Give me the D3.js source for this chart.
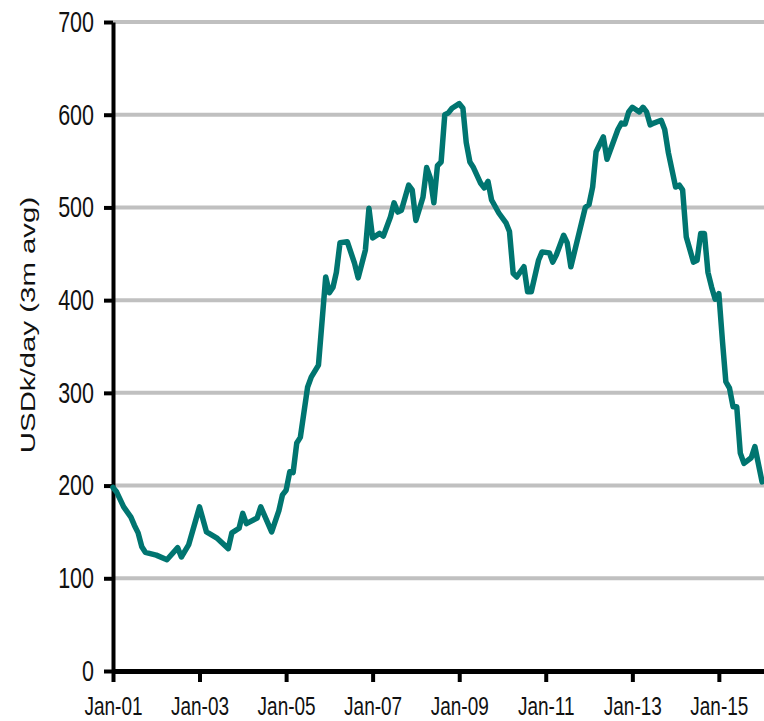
<!DOCTYPE html>
<html>
<head>
<meta charset="utf-8">
<script src="https://cdn.jsdelivr.net/npm/d3@7"></script>
<style>
  html, body { margin: 0; padding: 0; background: #ffffff; }
  svg { display: block; }
  text { font-family: "Liberation Sans", Arial, Helvetica, sans-serif; fill: #111; }
</style>
</head>
<body>
<svg id="chart" width="764" height="721"></svg>
<script>
// Monthly observations (3-month average, USDk/day)
const months = [
  "2001-01","2001-02","2001-04","2001-06","2001-07","2001-08","2001-09","2001-10",
  "2002-01","2002-04","2002-07","2002-08","2002-10","2002-12",
  "2003-01","2003-03","2003-06","2003-09","2003-10","2003-12",
  "2004-01","2004-02","2004-05","2004-06","2004-09","2004-11","2004-12",
  "2005-01","2005-02","2005-03","2005-04","2005-05","2005-07","2005-08","2005-10","2005-12",
  "2006-01","2006-02","2006-03","2006-04","2006-06","2006-08","2006-09","2006-11","2006-12",
  "2007-01","2007-03","2007-04","2007-06","2007-07","2007-08","2007-09","2007-11","2007-12",
  "2008-01","2008-03","2008-04","2008-05","2008-06","2008-07","2008-08","2008-09","2008-10","2008-11",
  "2009-01","2009-02","2009-03","2009-04","2009-05","2009-07","2009-08","2009-09","2009-10","2009-12",
  "2010-02","2010-03","2010-04","2010-05","2010-07","2010-08","2010-09","2010-11","2010-12",
  "2011-02","2011-03","2011-04","2011-06","2011-07","2011-08","2011-10","2011-12",
  "2012-01","2012-02","2012-03","2012-05","2012-06","2012-09","2012-10","2012-11","2012-12",
  "2013-01","2013-03","2013-04","2013-05","2013-06","2013-07","2013-09","2013-10","2013-11",
  "2014-01","2014-02","2014-03","2014-04","2014-06","2014-07","2014-08","2014-09","2014-10","2014-11","2014-12",
  "2015-01","2015-02","2015-03","2015-04","2015-05","2015-06","2015-07","2015-08","2015-10","2015-11","2016-01"
];
const values = [
  198,193,177,166,157,149,134,128,
  125,120,133,123,136,163,
  177,150,143,132,149,154,
  170,159,165,177,150,173,190,
  195,215,214,246,252,306,317,330,425,
  408,414,430,462,463,440,424,454,499,
  467,472,469,490,505,495,497,524,519,
  486,511,543,532,505,545,549,600,602,607,
  612,607,570,549,543,526,521,528,508,494,
  483,474,429,425,436,409,409,443,452,
  451,441,449,470,462,436,468,500,
  503,522,560,576,552,584,591,590,603,
  608,603,608,603,589,591,594,584,559,
  522,524,519,468,441,443,472,472,430,414,401,
  407,355,312,305,285,285,235,224,230,242,204
];
const yTicks = [0, 100, 200, 300, 400, 500, 600, 700];
const xTickLabels = ["Jan-01","Jan-03","Jan-05","Jan-07","Jan-09","Jan-11","Jan-13","Jan-15"];
const yTitle = "USDk/day (3m avg)";

const parseMonth = d3.timeParse("%Y-%m");
const series = months.map((m, i) => ({ date: parseMonth(m), value: values[i] }));
const xTickDates = xTickLabels.map(s => d3.timeParse("%b-%y")(s));

const svg = d3.select("#chart");
const plotLeft = 113, plotRight = 764, plotTop = 22, plotBottom = 671;

const x = d3.scaleTime()
  .domain([new Date(2001, 0, 1), new Date(2016, 0, 17)])
  .range([plotLeft, plotRight]);
const y = d3.scaleLinear().domain([0, 700]).range([plotBottom, plotTop]);

// Horizontal gridlines
svg.append("g")
  .selectAll("line")
  .data(yTicks.filter(v => v > 0))
  .join("line")
  .attr("x1", plotLeft).attr("x2", plotRight)
  .attr("y1", d => y(d)).attr("y2", d => y(d))
  .attr("stroke", "#c0c0c0")
  .attr("stroke-width", 4);

// Y axis
const yAxis = svg.append("g")
  .attr("transform", `translate(${plotLeft},0)`)
  .call(d3.axisLeft(y).tickValues(yTicks).tickSize(9).tickSizeOuter(0).tickPadding(10));
yAxis.select(".domain").attr("stroke", "#000").attr("stroke-width", 4);
yAxis.selectAll(".tick line").attr("stroke", "#000").attr("stroke-width", 4);
yAxis.selectAll(".tick text")
  .attr("font-size", 21.5)
  .attr("font-family", "Liberation Sans, Arial, sans-serif")
  .attr("fill", "#111")
  .attr("x", -19)
  .attr("dy", "0.32em")
  .attr("transform", "scale(1,1.36)");

// X axis
const xAxis = svg.append("g")
  .attr("transform", `translate(0,${plotBottom})`)
  .call(d3.axisBottom(x).tickValues(xTickDates).tickFormat(d3.timeFormat("%b-%y"))
    .tickSize(11).tickSizeOuter(0));
xAxis.select(".domain").attr("stroke", "#000").attr("stroke-width", 5);
xAxis.selectAll(".tick line").attr("stroke", "#000").attr("stroke-width", 4);
xAxis.selectAll(".tick text")
  .attr("font-size", 19)
  .attr("font-family", "Liberation Sans, Arial, sans-serif")
  .attr("fill", "#111")
  .attr("y", 32.6)
  .attr("dy", 0)
  .attr("transform", "scale(1,1.35)");

// Axis title
svg.append("text")
  .attr("transform", "translate(35,325) scale(1,1.4) rotate(-90)")
  .attr("text-anchor", "middle")
  .attr("font-size", 21)
  .attr("fill", "#1a1a1a")
  .text(yTitle);

// Series line
const line = d3.line().x(d => x(d.date)).y(d => y(d.value));
svg.append("path")
  .datum(series)
  .attr("d", line)
  .attr("fill", "none")
  .attr("stroke", "#007570")
  .attr("stroke-width", 5.5)
  .attr("stroke-linejoin", "round")
  .attr("stroke-linecap", "round");
</script>
</body>
</html>
